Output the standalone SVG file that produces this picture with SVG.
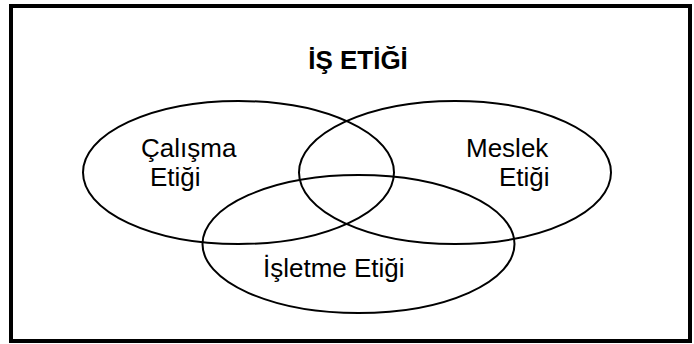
<svg xmlns="http://www.w3.org/2000/svg" width="694" height="344" viewBox="0 0 694 344">
  <style>
    .frame { fill: #ffffff; stroke: #000000; stroke-width: 4; }
    .set { fill: none; stroke: #000000; stroke-width: 2; }
    .lbl { font-family: "Liberation Sans", Arial, sans-serif; font-size: 26px; fill: #000000; }
    .title { font-family: "Liberation Sans", Arial, sans-serif; font-size: 26px; font-weight: bold; fill: #000000; }
  </style>
  <rect class="frame" x="11" y="6" width="679" height="335"/>
  <text class="title" x="358" y="69" text-anchor="middle">İŞ ETİĞİ</text>
  <g id="calisma-etigi">
    <ellipse class="set" cx="238.5" cy="172.5" rx="155.5" ry="71.5"/>
    <text class="lbl" x="141" y="157">Çalışma</text>
    <text class="lbl" x="150" y="186">Etiği</text>
  </g>
  <g id="meslek-etigi">
    <ellipse class="set" cx="455" cy="172.5" rx="156" ry="71.5"/>
    <text class="lbl" x="466" y="157">Meslek</text>
    <text class="lbl" x="499" y="186">Etiği</text>
  </g>
  <g id="isletme-etigi">
    <ellipse class="set" cx="358.5" cy="244" rx="156" ry="69"/>
    <text class="lbl" x="263" y="277">İşletme Etiği</text>
  </g>
  <g id="connectors"/>
</svg>
